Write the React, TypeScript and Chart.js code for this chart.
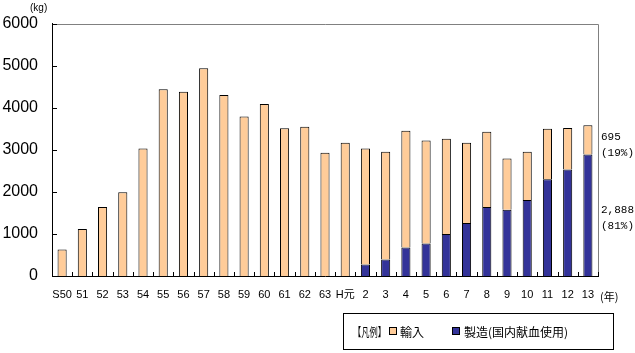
import React, { useEffect, useRef } from "react";
import { Chart, registerables } from "chart.js";

Chart.register(...registerables);

const categories = ["S50","51","52","53","54","55","56","57","58","59","60","61","62","63","H元","2","3","4","5","6","7","8","9","10","11","12","13"];
const manufactured: (number | null)[] = [null,null,null,null,null,null,null,null,null,null,null,null,null,null,null,275,390,680,770,1000,1260,1640,1575,1805,2300,2530,2888];
const imported = [630,1120,1640,1990,3030,4440,4380,4940,4300,3790,4090,3510,3550,2930,3170,2755,2565,2770,2450,2265,1910,1790,1220,1150,1200,990,695];
const yTicks = [0,1000,2000,3000,4000,5000,6000];

const ORANGE = "#FFCC99";
const BLUE = "#333399";

const overlay = {
  id: "overlay",
  afterDraw(chart: any) {
    const ctx = chart.ctx;
    const { left, right, top, bottom } = chart.chartArea;
    const ys = chart.scales.y;
    ctx.save();
    // top & right grey border
    ctx.strokeStyle = "#808080";
    ctx.lineWidth = 1;
    ctx.beginPath();
    ctx.moveTo(left, Math.round(top) + 0.5);
    ctx.lineTo(Math.round(right) + 0.5, Math.round(top) + 0.5);
    ctx.lineTo(Math.round(right) + 0.5, Math.round(bottom));
    ctx.stroke();
    // inner ticks
    ctx.strokeStyle = "#000";
    ctx.beginPath();
    for (const v of yTicks) {
      const y = Math.round(ys.getPixelForValue(v)) + 0.5;
      ctx.moveTo(left, y);
      ctx.lineTo(left + 5, y);
    }
    for (let i = 0; i <= categories.length; i++) {
      const x = Math.round(left + (i * (right - left)) / categories.length) + 0.5;
      ctx.moveTo(x, bottom);
      ctx.lineTo(x, bottom - 4);
    }
    ctx.stroke();
    // units
    ctx.fillStyle = "#000";
    ctx.font = "10px 'Liberation Sans', 'Noto Sans CJK JP'";
    ctx.textAlign = "left";
    ctx.textBaseline = "middle";
    ctx.fillText("(kg)", 30, 8);
    ctx.font = "11px 'Noto Sans CJK JP'";
    ctx.fillText("(年)", 600, 297);
    // annotations
    ctx.font = "11px 'Liberation Mono', 'DejaVu Sans Mono'";
    ctx.fillText("695", 601, 137);
    ctx.fillText("(19%)", 601, 153);
    ctx.fillText("2,888", 601, 210);
    ctx.fillText("(81%)", 601, 226);
    // legend box
    ctx.strokeStyle = "#000";
    ctx.strokeRect(343.5, 313.5, 270, 36);
    ctx.font = "12px 'Noto Sans CJK JP'";
    ctx.fillText("【凡例】", 353, 332, 33);
    ctx.fillStyle = ORANGE;
    ctx.fillRect(389, 327, 8, 8);
    ctx.strokeRect(389.5, 327.5, 7, 7);
    ctx.fillStyle = "#000";
    ctx.fillText("輸入", 400, 332, 24);
    ctx.fillStyle = BLUE;
    ctx.fillRect(452, 327, 8, 8);
    ctx.strokeRect(452.5, 327.5, 7, 7);
    ctx.fillStyle = "#000";
    ctx.fillText("製造(国内献血使用)", 464, 332, 120);
    ctx.restore();
  },
};

export default function App() {
  const ref = useRef<HTMLCanvasElement>(null);
  useEffect(() => {
    const chart = new Chart(ref.current!, {
      type: "bar",
      data: {
        labels: categories,
        datasets: [
          {
            label: "製造(国内献血使用)",
            data: manufactured,
            backgroundColor: BLUE,
            borderColor: "#000",
            borderWidth: 1,
            barPercentage: 0.45,
            categoryPercentage: 1,
          },
          {
            label: "輸入",
            data: imported,
            backgroundColor: ORANGE,
            borderColor: "#000",
            borderWidth: 1,
            barPercentage: 0.45,
            categoryPercentage: 1,
          },
        ],
      },
      options: {
        animation: false,
        responsive: true,
        maintainAspectRatio: false,
        layout: { padding: { left: 0, top: 21, right: 37, bottom: 0 } },
        plugins: { legend: { display: false }, tooltip: { enabled: false } },
        scales: {
          x: {
            stacked: true,
            grid: { display: false, drawTicks: false },
            border: { display: true, color: "#000" },
            ticks: {
              color: "#000",
              font: { family: "'Liberation Sans', 'Noto Sans CJK JP'", size: 11 },
              padding: 12,
              maxRotation: 0,
              autoSkip: false,
            },
            afterFit(s: any) { s.height = 77; },
          },
          y: {
            stacked: true,
            min: 0,
            max: 6000,
            grid: { display: false, drawTicks: false },
            border: { display: true, color: "#000" },
            ticks: {
              stepSize: 1000,
              color: "#000",
              font: { family: "'Liberation Sans'", size: 16 },
              padding: 14,
              callback: (v: any) => String(v),
            },
            afterFit(s: any) { s.width = 52; },
          },
        },
      },
      plugins: [overlay],
    });
    return () => chart.destroy();
  }, []);
  return (
    <div style={{ position: "fixed", left: 0, top: 0, width: 635, height: 353, background: "#fff" }}>
      <canvas ref={ref} />
    </div>
  );
}
